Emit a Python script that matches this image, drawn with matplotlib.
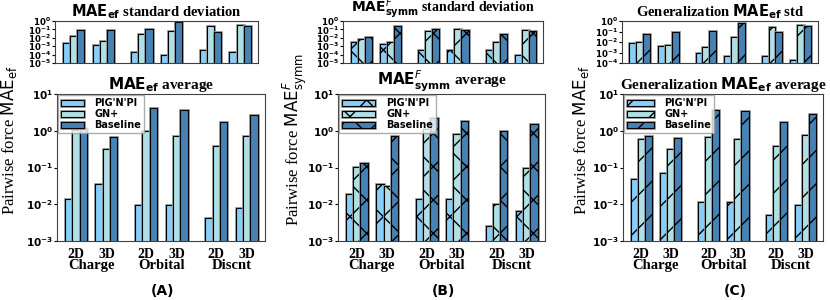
import numpy as np
import matplotlib
matplotlib.use('Agg')
import matplotlib.pyplot as plt
import matplotlib.patheffects as pe
from matplotlib.ticker import LogLocator

plt.rcParams['font.family'] = ['Liberation Serif', 'DejaVu Serif']
plt.rcParams['mathtext.fontset'] = 'dejavusans'

methods = ["PIG'N'PI", "GN+", "Baseline"]
colors = ['#87CEFA', '#B0E0E6', '#4682B4']
dims = ['2D', '3D', '2D', '3D', '2D', '3D']
groups = ['Charge', 'Orbital', 'Discnt']

# (A) MAE_ef
a_std = [[2.2e-3, 1.4e-3, 1.9e-4, 9.5e-5, 3.6e-4, 1.9e-4],
         [1.7e-2, 4.5e-3, 3.0e-2, 6.2e-2, 0.24, 0.37],
         [8.1e-2, 9.6e-2, 0.126, 0.70, 5.1e-2, 0.26]]
a_avg = [[1.43e-2, 3.66e-2, 9.4e-3, 9.8e-3, 4.1e-3, 8.1e-3],
         [1.04, 0.32, 0.96, 0.72, 0.38, 0.72],
         [1.2, 0.66, 4.24, 3.66, 1.72, 2.67]]

# (B) MAE_symm^F
b_std = [[3.5e-3, 1.7e-3, 3.6e-4, 3.6e-4, 3.6e-4, 8.7e-5],
         [7.8e-3, 2.9e-3, 6.7e-2, 0.105, 3.5e-3, 7.4e-2],
         [1.1e-2, 0.24, 0.126, 7.4e-2, 2.5e-2, 6.2e-2]]
b_avg = [[1.87e-2, 3.5e-2, 1.43e-2, 1.37e-2, 2.6e-3, 6.6e-3],
         [0.104, 3.2e-2, 1.11, 0.83, 1.02e-2, 0.10],
         [0.129, 0.72, 2.26, 1.87, 1.0, 1.49]]

# (C) generalization MAE_ef
c_std = [[7.5e-3, 4.6e-3, 8.7e-4, 4.2e-4, 4.9e-4, 2.0e-4],
         [1.07e-2, 5.2e-3, 3.2e-3, 3.2e-2, 0.27, 0.45],
         [6.0e-2, 0.10, 0.124, 0.65, 0.10, 0.37]]
c_avg = [[4.9e-2, 7.2e-2, 1.13e-2, 1.13e-2, 5.1e-3, 9.4e-3],
         [0.60, 0.32, 0.66, 0.59, 0.38, 0.76],
         [0.715, 0.64, 3.58, 3.44, 1.72, 2.79]]

pos = np.array([0, 1, 2.3, 3.3, 4.6, 5.6])
w = 0.24

W, H = 830, 300
fig = plt.figure(figsize=(8.3, 3.0), dpi=100)


def add_ax(x0, y0, x1, y1):
    return fig.add_axes([x0 / W, 1 - y1 / H, (x1 - x0) / W, (y1 - y0) / H])


def draw_bars(ax, vals, hatch, legend):
    for i in range(3):
        ax.bar(pos + (i - 1) * w, vals[i], w, color=colors[i], edgecolor='black',
               linewidth=0.8, hatch=hatch, label=methods[i],
               path_effects=[pe.Stroke(linewidth=2.0, foreground='0.6'), pe.Normal()])
    ax.set_yscale('log')
    ax.set_xlim(-0.62, 6.2)
    ax.yaxis.set_major_locator(LogLocator(base=10, numticks=12))
    ax.minorticks_off()
    for s in ax.spines.values():
        s.set_color('0.25')
    if legend:
        ax.legend(loc='upper left', prop={'family': 'DejaVu Sans', 'weight': 'bold', 'size': 7},
                  handlelength=legend, labelspacing=0.1, borderaxespad=0.15,
                  fancybox=False, edgecolor='0.6', handletextpad=1.1, borderpad=0.3)


def bold_ticks(ax):
    for lab in ax.get_yticklabels():
        lab.set_family('DejaVu Sans')
        lab.set_fontweight('bold')


panels = [
    dict(std=a_std, avg=a_avg, hatch=None, hl=2.3, tp=2, ts=10.5,
         t1=r'$\mathbf{MAE_{ef}}$ standard deviation', t2=r'$\mathbf{MAE_{ef}}$ average',
         yl=r'Pairwise force $\mathrm{MAE_{ef}}$', lo=1e-5, letter='(A)',
         top=(55, 21, 258, 63), bot=(57, 94, 265, 241), ylx=9, lx=162),
    dict(std=b_std, avg=b_avg, hatch='x', hl=3.4, tp=0, ts=10,
         t1=r'$\mathbf{MAE}^{F}_{\mathbf{symm}}$ standard deviation', t2=r'$\mathbf{MAE}^{F}_{\mathbf{symm}}$ average',
         yl=r'Pairwise force $\mathrm{MAE}^{F}_{\mathrm{symm}}$', lo=1e-5, letter='(B)',
         top=(343, 21, 543, 63), bot=(338, 94, 545, 241), ylx=295, lx=443),
    dict(std=c_std, avg=c_avg, hatch='/', hl=2.7, tp=2, ts=10.5,
         t1=r'Generalization $\mathbf{MAE_{ef}}$ std', t2=r'Generalization $\mathbf{MAE_{ef}}$ average',
         yl=r'Pairwise force $\mathrm{MAE_{ef}}$', lo=1e-4, letter='(C)',
         top=(622, 21, 818, 63), bot=(623, 94, 823, 241), ylx=581, lx=735),
]

for p in panels:
    ax1 = add_ax(*p['top'])
    draw_bars(ax1, p['std'], p['hatch'], None)
    ax1.set_ylim(p['lo'], 1)
    ax1.set_xticks([])
    ax1.tick_params(axis='y', labelsize=6.2, length=2, pad=1)
    bold_ticks(ax1)
    ax1.set_title(p['t1'], fontsize=p['ts'], fontweight='bold', pad=p['tp'])

    ax2 = add_ax(*p['bot'])
    draw_bars(ax2, p['avg'], p['hatch'], p['hl'])
    ax2.set_ylim(1e-3, 10)
    ax2.set_xticks(pos)
    ax2.set_xticklabels(dims, fontsize=10, fontweight='bold')
    ax2.tick_params(axis='y', labelsize=7.5, length=2, pad=1)
    ax2.tick_params(axis='x', length=0, pad=5)
    bold_ticks(ax2)
    ax2.set_title(p['t2'], fontsize=11, fontweight='bold', pad=3)
    for k, g in enumerate(groups):
        ax2.text((pos[2 * k] + pos[2 * k + 1]) / 2, -0.165, g, transform=ax2.get_xaxis_transform(),
                 ha='center', va='center', fontsize=10.5, fontweight='bold')

    fig.text(p['ylx'] / W, 1 - 140 / H, p['yl'], rotation=90, ha='center', va='center', fontsize=12)
    fig.text(p['lx'] / W, 1 - 291 / H, p['letter'], ha='center', va='center',
             fontsize=10, family='DejaVu Sans', fontweight='bold')

fig.savefig('out.png', dpi=100)
